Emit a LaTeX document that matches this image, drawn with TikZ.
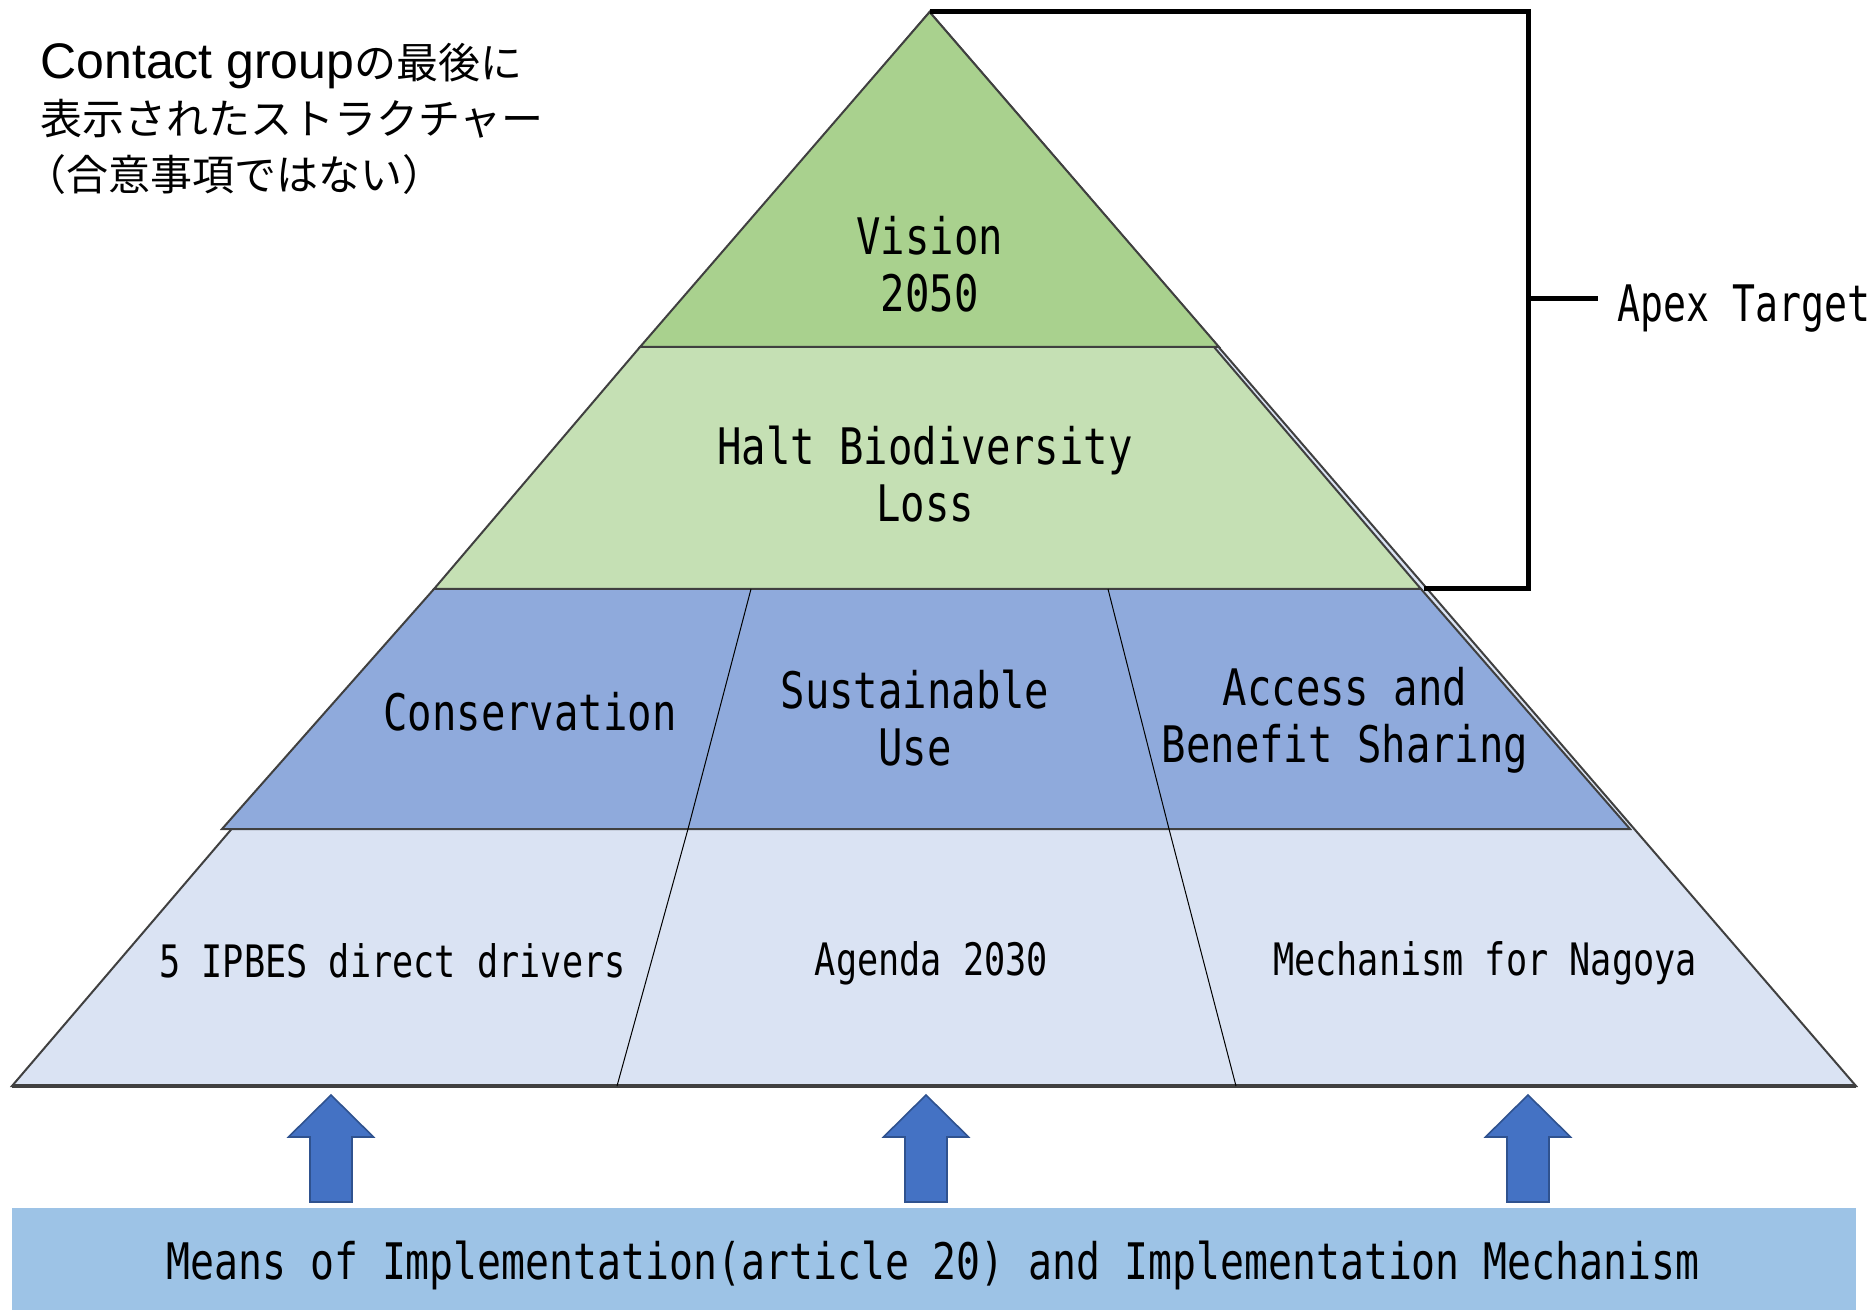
\documentclass[tikz,border=0pt]{standalone}
\usepackage{fontspec}
\usepackage{graphicx}
\setmainfont{Liberation Sans}
\newfontfamily\jpfont{Noto Sans CJK JP}
\newfontfamily\monofnt{DejaVu Sans Mono}
\newcommand\sy[2][1.24]{\scalebox{1}[#1]{#2}}
\definecolor{visioncol}{HTML}{A9D18E}
\definecolor{haltcol}{HTML}{C5E0B4}
\definecolor{midcol}{HTML}{8FAADC}
\definecolor{basecol}{HTML}{DAE3F3}
\definecolor{arrowcol}{HTML}{4472C4}
\definecolor{arrowline}{HTML}{2F528F}
\definecolor{meanscol}{HTML}{9DC3E6}
\definecolor{edgecol}{HTML}{404040}
\tikzset{
  layer/.style={draw=edgecol, line width=1pt, line join=miter},
  divider/.style={draw=black, line width=0.5pt},
  upperlbl/.style={font=\monofnt\fontsize{20.3}{28.3}\selectfont, align=center, inner sep=0pt},
  lowerlbl/.style={font=\monofnt\fontsize{17.6}{28}\selectfont, align=center, inner sep=0pt},
  blockarrow/.style={fill=arrowcol, draw=arrowline, line width=0.8pt},
  bracketline/.style={draw=black, line width=2.5pt},
  notelbl/.style={font=\fontsize{25}{30}\selectfont, anchor=base west, inner sep=0pt},
}
\newcommand\jp[1]{{\jpfont\fontsize{21}{30}\selectfont #1}}
\begin{document}
\begin{tikzpicture}[x=0.5pt,y=-0.5pt]
\useasboundingbox (0,0) rectangle (1876,1310);

% key points
\coordinate (apex) at (929.6,12);
\coordinate (bl) at (12,1086);
\coordinate (br) at (1856,1086);
\coordinate (vl) at (640,347);
\coordinate (vr) at (1219,347);
\coordinate (hr0) at (1214,347);
\coordinate (hl) at (434,589);
\coordinate (hr) at (1421,589);
\coordinate (ml) at (222,829);
\coordinate (mr) at (1630,829);

% base layer (whole triangle)
\path[layer, fill=basecol] (apex) -- (bl) -- (br) -- cycle;
\draw[draw=edgecol, line width=1.6pt] (bl) -- (br);
% middle (blue) layer
\path[layer, fill=midcol] (hl) -- (ml) -- (mr) -- (hr) -- cycle;
% halt layer
\path[layer, fill=haltcol] (vl) -- (hl) -- (hr) -- (hr0) -- cycle;
% vision layer
\path[layer, fill=visioncol] (apex) -- (vl) -- (vr) -- cycle;

% dividers
\coordinate (d1a) at (751,589);
\coordinate (d1b) at (688,829);
\coordinate (d1c) at (617,1086);
\coordinate (d2a) at (1108,589);
\coordinate (d2b) at (1169,829);
\coordinate (d2c) at (1236,1086);
\draw[divider] (d1a) -- (d1b) -- (d1c);
\draw[divider] (d2a) -- (d2b) -- (d2c);

% labels in pyramid
\node[upperlbl] (vision) at (929.6,264) {\sy{Vision}\\\sy{2050}};
\node[upperlbl] (halt) at (925,474) {\sy{Halt Biodiversity}\\\sy{Loss}};
\node[upperlbl] (cons) at (530,712) {\sy{Conservation}};
\node[upperlbl] (sust) at (915,718) {\sy{Sustainable}\\\sy{Use}};
\node[upperlbl] (abs) at (1345,720) {\sy{Access and}\\\sy{Benefit Sharing}};
\node[lowerlbl] (ipbes) at (392.5,961) {\sy[1.27]{5 IPBES direct drivers}};
\node[lowerlbl] (agenda) at (931.5,963) {\sy[1.27]{Agenda 2030}};
\node[lowerlbl] (nagoya) at (1485,963) {\sy[1.27]{Mechanism for Nagoya}};

% bracket
\coordinate (bktTR) at (1528,12);
\coordinate (bktBR) at (1528,589);
\coordinate (bktBL) at (1424,589);
\draw[bracketline, line join=miter] (apex) -- (bktTR) -- (bktBR) -- (bktBL);
\coordinate (tick) at (1528,299);
\coordinate (tickend) at (1598,299);
\draw[bracketline] (tick) -- (tickend);
\node[upperlbl, anchor=west] (apexlbl) at (1617,309) {\scalebox{0.94}[1.24]{Apex Target}};

% means of implementation
\node[fill=meanscol, minimum width=922pt, minimum height=51pt, inner sep=0pt, anchor=north west] (means) at (12,1208) {};
\node[upperlbl] (meanslbl) at (933,1265) {\scalebox{0.98}[1.24]{Means of Implementation(article 20) and Implementation Mechanism}};

% block arrows
\foreach \cx/\nm in {331/a1, 926/a2, 1528/a3}{
  \coordinate (\nm tip) at (\cx,1095);
  \path[blockarrow] (\nm tip) -- (\cx+42.5,1137) -- (\cx+21,1137) -- (\cx+21,1202)
     -- (\cx-21,1202) -- (\cx-21,1137) -- (\cx-42.5,1137) -- cycle;
}

% note text
\node[notelbl] (note1) at (40,79) {Contact group\jp{の最後に}};
\node[notelbl] (note2) at (40,135) {\jp{表示されたストラクチャー}};
\node[notelbl] (note3) at (24,191) {\jp{（合意事項ではない）}};
\end{tikzpicture}
\end{document}
